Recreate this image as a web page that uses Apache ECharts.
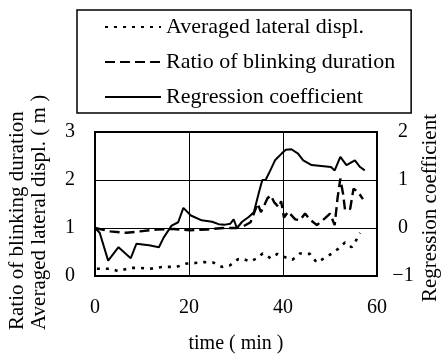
<!DOCTYPE html>
<html>
<head>
<meta charset="utf-8">
<script src="https://cdn.jsdelivr.net/npm/echarts@6/dist/echarts.min.js"></script>
<style>
  html, body { margin: 0; padding: 0; background: #fff; }
  #chart { width: 445px; height: 362px; }
</style>
</head>
<body>
<div id="chart"></div>
<script>
// time in minutes
const displTime = [0.4, 3.2, 5.0, 7.4, 9.6, 11.7, 14.5, 17.4, 19.5, 21.3, 23.1, 25.2, 27.0, 28.7, 30.4, 31.5, 32.9, 34.3, 35.7, 37.4, 38.8, 40.2, 42.0, 43.6, 45.7, 47.2, 48.6, 50.4, 51.8, 53.2, 54.6, 55.6, 56.4];
const displValues = [0.15, 0.15, 0.1, 0.17, 0.17, 0.15, 0.19, 0.19, 0.26, 0.27, 0.29, 0.28, 0.19, 0.22, 0.35, 0.36, 0.3, 0.36, 0.47, 0.37, 0.46, 0.4, 0.34, 0.47, 0.46, 0.28, 0.36, 0.47, 0.57, 0.7, 0.6, 0.75, 0.9];

const blinkTime = [0, 3.2, 6.7, 9.6, 13.1, 16.7, 20.2, 23.8, 27.3, 30.1, 31.3, 33.1, 33.8, 34.6, 35.3, 36.0, 36.7, 37.4, 38.1, 39.1, 39.6, 40.2, 41.1, 42.6, 43.6, 44.7, 45.7, 47.2, 48.9, 50.0, 51.0, 51.6, 52.2, 52.8, 53.2, 54.3, 55.0, 56.0, 57.0];
const blinkRatio = [1.0, 0.93, 0.9, 0.93, 0.97, 0.98, 0.95, 0.97, 1.0, 1.0, 1.02, 1.12, 1.3, 1.51, 1.33, 1.47, 1.62, 1.68, 1.54, 1.43, 1.56, 1.22, 1.34, 1.18, 1.16, 1.3, 1.18, 1.06, 1.2, 1.3, 1.06, 1.62, 2.03, 1.7, 1.37, 1.4, 1.82, 1.75, 1.6];

const regTime = [0, 1.0, 2.8, 5.0, 7.6, 8.8, 11.5, 13.6, 14.6, 16.3, 17.7, 18.8, 20.4, 22.7, 24.9, 26.3, 27.7, 28.8, 29.5, 30.2, 31.3, 32.7, 33.8, 34.9, 35.6, 36.3, 37.3, 38.3, 39.7, 40.6, 41.8, 43.2, 44.3, 46.1, 50.2, 51.0, 52.2, 53.5, 55.3, 56.4, 57.4];
const regCoef = [0, -0.1, -0.68, -0.4, -0.63, -0.33, -0.36, -0.4, -0.2, 0.05, 0.12, 0.42, 0.26, 0.16, 0.13, 0.08, 0.07, 0.09, 0.18, 0, 0.13, 0.23, 0.33, 0.75, 1.0, 1.0, 1.2, 1.41, 1.55, 1.63, 1.64, 1.55, 1.41, 1.31, 1.27, 1.2, 1.48, 1.31, 1.41, 1.27, 1.2];

const xTicks = [0, 20, 40, 60];
const leftTicks = [0, 1, 2, 3];
const rightTicks = [-1, 0, 1, 2];

const seriesNames = ["Averaged lateral displ.", "Ratio of blinking duration", "Regression coefficient"];

const zip = (xs, ys) => xs.map((x, i) => [x, ys[i]]);
const serif = "Liberation Serif, Times New Roman, serif";

const chart = echarts.init(document.getElementById("chart"), null, { renderer: "canvas" });

chart.setOption({
  animation: false,
  backgroundColor: "#fff",
  textStyle: { fontFamily: serif, color: "#000" },
  legend: {
    orient: "vertical",
    left: 77,
    top: 10,
    padding: [6, 16, 5, 27],
    itemGap: 13,
    itemWidth: 56,
    itemHeight: 14,
    borderColor: "#000",
    borderWidth: 1.5,
    itemStyle: { opacity: 0 },
    textStyle: { fontFamily: serif, fontSize: 22, color: "#000" },
    data: seriesNames
  },
  grid: { left: 95, right: 68, top: 132, bottom: 86, show: true, borderColor: "#000", borderWidth: 2 },
  xAxis: {
    type: "value",
    min: xTicks[0],
    max: xTicks[xTicks.length - 1],
    interval: 20,
    name: "time ( min )",
    nameLocation: "middle",
    nameGap: 58,
    nameTextStyle: { fontFamily: serif, fontSize: 20, color: "#000" },
    axisLine: { show: false },
    axisTick: { show: false },
    axisLabel: { margin: 22, fontFamily: serif, fontSize: 20, color: "#000" },
    splitLine: { show: true, lineStyle: { color: "#000", width: 1 } }
  },
  yAxis: [
    {
      type: "value",
      min: leftTicks[0],
      max: leftTicks[leftTicks.length - 1],
      interval: 1,
      axisLine: { show: false },
      axisTick: { show: false },
      axisLabel: { margin: 20, fontFamily: serif, fontSize: 20, color: "#000" },
      splitLine: { show: true, lineStyle: { color: "#000", width: 1 } }
    },
    {
      type: "value",
      position: "right",
      min: rightTicks[0],
      max: rightTicks[rightTicks.length - 1],
      interval: 1,
      axisLine: { show: false },
      axisTick: { show: false },
      axisLabel: {
        margin: 26,
        align: "center",
        fontFamily: serif,
        fontSize: 20,
        color: "#000",
        formatter: (v) => (v < 0 ? "\u2212" + Math.abs(v) : String(v))
      },
      splitLine: { show: false }
    }
  ],
  graphic: [
    {
      type: "text", x: 17, y: 330, rotation: Math.PI / 2,
      style: { text: "Ratio of blinking duration", font: "21px " + serif, fill: "#000", textAlign: "left", textVerticalAlign: "middle" }
    },
    {
      type: "text", x: 39, y: 330, rotation: Math.PI / 2,
      style: { text: "Averaged lateral displ. ( m )", font: "21px " + serif, fill: "#000", textAlign: "left", textVerticalAlign: "middle" }
    },
    {
      type: "text", x: 430, y: 208, rotation: Math.PI / 2,
      style: { text: "Regression coefficient", font: "21px " + serif, fill: "#000", textAlign: "center", textVerticalAlign: "middle" }
    }
  ],
  series: [
    {
      name: seriesNames[0],
      type: "line",
      yAxisIndex: 0,
      symbol: "none",
      lineStyle: { color: "#000", width: 2.6, type: [3, 6] },
      itemStyle: { color: "#000" },
      data: zip(displTime, displValues)
    },
    {
      name: seriesNames[1],
      type: "line",
      yAxisIndex: 0,
      symbol: "none",
      lineStyle: { color: "#000", width: 2.4, type: [10, 5] },
      itemStyle: { color: "#000" },
      data: zip(blinkTime, blinkRatio)
    },
    {
      name: seriesNames[2],
      type: "line",
      yAxisIndex: 1,
      symbol: "none",
      lineStyle: { color: "#000", width: 2 },
      itemStyle: { color: "#000" },
      data: zip(regTime, regCoef)
    }
  ]
});
</script>
</body>
</html>
